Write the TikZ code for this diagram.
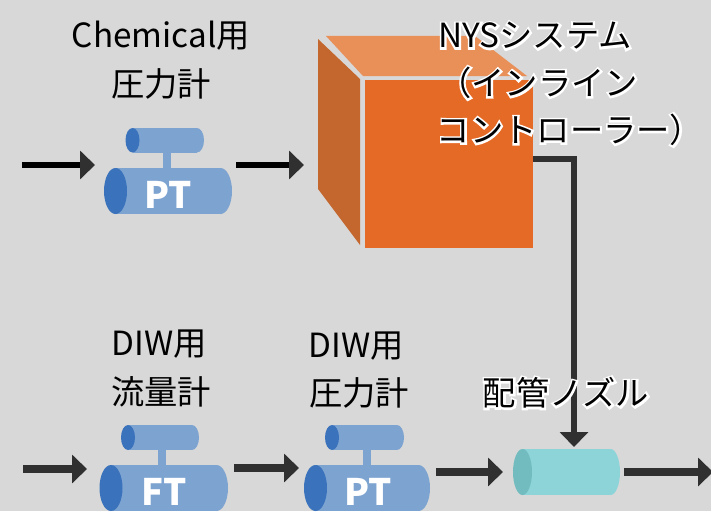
\documentclass[tikz,border=0pt]{standalone}
\usepackage{fontspec}
\usetikzlibrary{arrows.meta}
\setmainfont{Noto Sans CJK JP}
\newfontfamily\halofont[FakeBold=12]{Noto Sans CJK JP}
\definecolor{bgc}{HTML}{D8D8D8}
\definecolor{bodyc}{HTML}{7DA3D1}
\definecolor{endc}{HTML}{3A72BB}
\definecolor{nozc}{HTML}{8DD4D8}
\definecolor{nozend}{HTML}{72BCBF}
\definecolor{frontc}{HTML}{E56A26}
\definecolor{leftc}{HTML}{C4672E}
\definecolor{topc}{HTML}{E98F58}
\definecolor{headc}{HTML}{303030}
\definecolor{blk}{HTML}{000000}
\tikzset{
  lbl/.style={inner sep=0pt,font=\fontsize{33.3}{33.3}\selectfont,text=black},
  code/.style={inner sep=0pt,font=\fontsize{36.5}{36.5}\selectfont\bfseries,text=white},
  flowtop/.style={draw=blk,line width=6.5pt,-{Triangle[length=15pt,width=28pt,fill=headc,color=headc]}},
  flowlow/.style={draw=headc,line width=8pt,-{Triangle[length=15pt,width=28pt,fill=headc,color=headc]}},
  flowv/.style={draw=headc,line width=6pt,-{Triangle[length=15pt,width=28pt,fill=headc,color=headc]}},
}
% x1 x2 ytop ybot rx body end
\newcommand{\cylshape}[7]{%
  \fill[#6] ({#2-#5},{(#3+#4)/2}) ellipse[x radius=#5,y radius={(#4-#3)/2}];
  \fill[#6] ({#1+#5},#3) rectangle ({#2-#5},#4);
  \fill[#7] ({#1+#5},{(#3+#4)/2}) ellipse[x radius=#5,y radius={(#4-#3)/2}];
}
\newcommand{\halo}[1]{\leavevmode\rlap{\color{white}\halofont #1}#1}
\begin{document}
\begin{tikzpicture}[x=1pt,y=-1pt]
\useasboundingbox (0,0) rectangle (711,511);
\fill[bgc] (0,0) rectangle (711,511);
% cube
\fill[leftc] (318,39) -- (360,79) -- (360,245) -- (318,189) -- cycle;
\fill[topc] (326,36) -- (475,36) -- (527,76) -- (363,76) -- cycle;
\fill[frontc] (365,80) rectangle (533,248);
% gauge PT 1
\fill[bodyc] (163,150) rectangle (171,170);
\cylshape{125.5}{204}{128}{152.5}{7}{bodyc}{endc}
\cylshape{104}{232}{168}{214}{11.5}{bodyc}{endc}
% gauge FT
\fill[bodyc] (158,448) rectangle (166,467);
\cylshape{121}{199}{425}{450}{7}{bodyc}{endc}
\cylshape{99.5}{228}{465}{511}{11.5}{bodyc}{endc}
% gauge PT 2
\fill[bodyc] (363,448) rectangle (371,467);
\cylshape{325}{404}{425}{450}{7}{bodyc}{endc}
\cylshape{304}{430}{465}{511}{11.5}{bodyc}{endc}
% nozzle
\cylshape{513}{620}{449}{495}{9.5}{nozc}{nozend}
% named ends
\coordinate (inA) at (22,165);
\coordinate (ptAin) at (95,165);
\coordinate (ptAout) at (236,165);
\coordinate (cubeIn) at (304,165);
\coordinate (cubeOut) at (533,159);
\coordinate (bend) at (574,159);
\coordinate (nozTop) at (574,447);
\coordinate (inB) at (23,469);
\coordinate (ftIn) at (87,469);
\coordinate (ftOut) at (234,468);
\coordinate (ptBin) at (299,468);
\coordinate (ptBout) at (436,472);
\coordinate (nozIn) at (503,472);
\coordinate (nozOut) at (624,472);
\coordinate (outEnd) at (713,472);
% connectors
\draw[flowtop] (inA) -- (ptAin);
\draw[flowtop] (ptAout) -- (cubeIn);
\draw[flowv] (cubeOut) -- (bend) -- (nozTop);
\draw[flowlow] (inB) -- (ftIn);
\draw[flowlow] (ftOut) -- (ptBin);
\draw[flowlow] (ptBout) -- (nozIn);
\draw[flowlow] (nozOut) -- (outEnd);
% texts
\node[code] (ptA) at (168,195) {PT};
\node[code] (ftB) at (164,492) {FT};
\node[code] (ptB) at (368,492) {PT};
\node[lbl] (chemA) at (161,36) {Chemical用};
\node[lbl] (chemB) at (161,84) {圧力計};
\node[lbl] (diwA) at (159,344) {DIW用};
\node[lbl] (diwB) at (161,392) {流量計};
\node[lbl] (diwC) at (356,346) {DIW用};
\node[lbl] (diwD) at (359,393) {圧力計};
\node[lbl] (nysA) at (535,36) {\halo{NYSシステム}};
\node[lbl] (nysB) at (538,83) {\halo{（インライン}};
\node[lbl] (nysC) at (570,130) {\halo{コントローラー）}};
\node[lbl] (noz) at (566,393) {\halo{配管ノズル}};
\end{tikzpicture}
\end{document}
